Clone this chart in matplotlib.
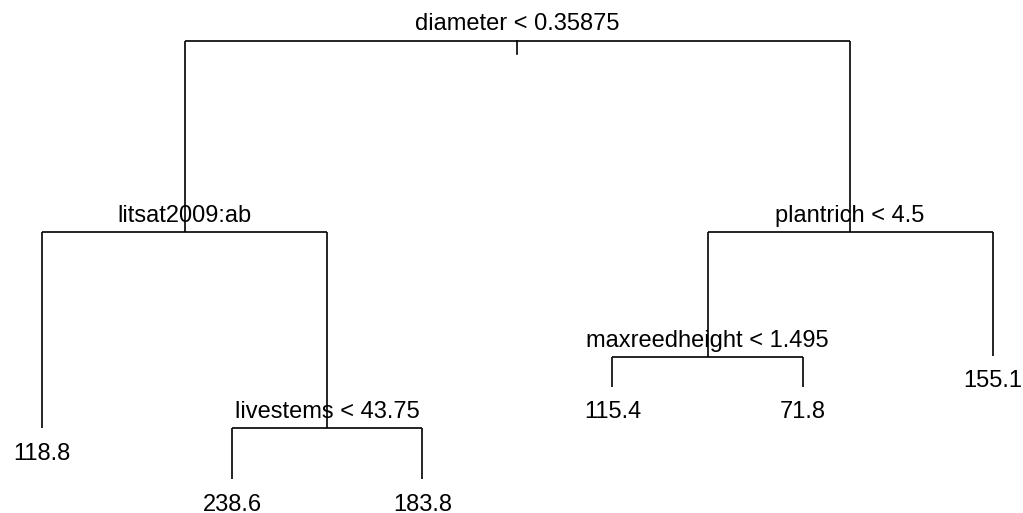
import matplotlib
matplotlib.use("Agg")
import matplotlib.pyplot as plt

plt.rcParams['font.family'] = ['Liberation Sans', 'DejaVu Sans']

# regression tree, nodes in preorder (R-style numbering: children of n are 2n, 2n+1)
node_id = [1, 2, 4, 5, 10, 11, 3, 6, 12, 13, 7]
node_label = ["diameter < 0.35875", "litsat2009:ab", "118.8", "livestems < 43.75",
              "238.6", "183.8", "plantrich < 4.5", "maxreedheight < 1.495",
              "115.4", "71.8", "155.1"]
# node heights (deviance, arbitrary units)
node_dev = [100.0, 56.3, 11.6, 11.6, 0.0, 0.0, 56.3, 27.8, 21.1, 21.1, 28.1]

dev = dict(zip(node_id, node_dev))
lab = dict(zip(node_id, node_label))
is_leaf = {n: (2 * n not in dev) for n in node_id}

# leaves get x = 1, 2, ... in order; splits sit over the middle of their children
xpos = {}
k = 0
for n in node_id:
    if is_leaf[n]:
        k += 1
        xpos[n] = k

def get_x(n):
    if n not in xpos:
        xpos[n] = (get_x(2 * n) + get_x(2 * n + 1)) / 2.0
    return xpos[n]

get_x(1)

fig = plt.figure(figsize=(10.23, 5.13), dpi=100)
ax = fig.add_axes([0, 0, 1, 1])
ax.set_xlim(0.779, 6.159)
ax.set_ylim(-7.76, 109.29)
ax.axis('off')

lw = 1.2
fs = 17
for n in node_id:
    if is_leaf[n]:
        ax.annotate(lab[n], (xpos[n], dev[n]), xytext=(0, -10.5), textcoords='offset points',
                    ha='center', va='top', fontsize=fs)
        continue
    l, r = 2 * n, 2 * n + 1
    ax.plot([xpos[l], xpos[r]], [dev[n], dev[n]], color='black', lw=lw, solid_capstyle='butt')
    for c in (l, r):
        ax.plot([xpos[c], xpos[c]], [dev[n], dev[c]], color='black', lw=lw, solid_capstyle='butt')
    ax.annotate(lab[n], (xpos[n], dev[n]), xytext=(0, 7.4), textcoords='offset points',
                ha='center', va='baseline', fontsize=fs)

# short stub under the root
ax.plot([xpos[1], xpos[1]], [dev[1], dev[1] - 3.1], color='black', lw=lw)

fig.savefig("out.png", dpi=100)
